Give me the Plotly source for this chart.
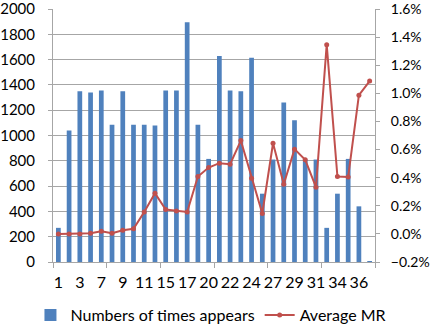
import plotly.graph_objects as go

categories = ["1", "2", "3", "5", "7", "8", "9", "10", "11", "13",
              "15", "16", "17", "19", "20", "21", "22", "23", "24", "26",
              "27", "28", "29", "30", "31", "33", "34", "35", "36", "37"]
times_appears = [270, 1040, 1350, 1340, 1355, 1085, 1350, 1085, 1085, 1080,
                 1355, 1355, 1895, 1085, 815, 1628, 1355, 1350, 1615, 540,
                 810, 1260, 1120, 810, 810, 270, 540, 815, 440, 5]
average_mr = [0.00000, 0.00000, 0.00000, 0.00005, 0.00019, 0.00005, 0.00026, 0.00036, 0.00156, 0.00289,
              0.00173, 0.00163, 0.00156, 0.00408, 0.00472, 0.00503, 0.00496, 0.00664, 0.00396, 0.00145,
              0.00645, 0.00353, 0.00603, 0.00527, 0.00332, 0.01346, 0.00408, 0.00405, 0.00987, 0.01087]
left_ticks = [0, 200, 400, 600, 800, 1000, 1200, 1400, 1600, 1800, 2000]
right_ticks = [-0.002, 0.0, 0.002, 0.004, 0.006, 0.008, 0.010, 0.012, 0.014, 0.016]

idx = list(range(len(categories)))
label_idx = idx[::2]
label_text = categories[::2]

FONT = "Lato"
BLUE = "#4F81BD"
RED = "#C0504D"
GRID = "#A6A6A6"

fig = go.Figure()
fig.add_trace(go.Bar(
    x=idx, y=times_appears, name="Numbers of times appears",
    marker=dict(color=BLUE, line=dict(width=0)),
))
fig.add_trace(go.Scatter(
    x=idx, y=average_mr, name="Average MR", yaxis="y2",
    mode="lines+markers",
    line=dict(color=RED, width=2),
    marker=dict(color=RED, size=5),
))

fig.update_layout(
    width=431, height=327,
    margin=dict(l=53, r=56, t=9, b=65, autoexpand=False),
    paper_bgcolor="white", plot_bgcolor="white",
    font=dict(family=FONT, size=16, color="#000000"),
    bargap=0.56,
    showlegend=True,
    legend=dict(orientation="h", x=-0.07, xanchor="left", y=-0.21, yanchor="middle",
                font=dict(family=FONT, size=16, color="#000000"),
                itemwidth=30, tracegroupgap=0),
    xaxis=dict(
        automargin=False,
        range=[-0.5, len(categories) - 0.5],
        tickmode="array", tickvals=label_idx, ticktext=label_text,
        ticks="", showgrid=False, zeroline=False,
        showline=True, linecolor=GRID, linewidth=1,
        ticklabelstandoff=6, ticklabeloverflow="allow",
        minor=dict(tickmode="linear", tick0=-0.5, dtick=5, ticks="outside",
                   ticklen=5, tickcolor=GRID, showgrid=False),
    ),
    yaxis=dict(
        automargin=False,
        range=[0, 2000], tickmode="array", tickvals=left_ticks,
        showgrid=True, gridcolor=GRID, gridwidth=1,
        zeroline=False, showline=True, linecolor=GRID,
        ticks="outside", ticklen=4, tickcolor=GRID,
        ticklabelstandoff=10, ticklabeloverflow="allow",
        tickfont=dict(family=FONT, size=15, color="#000000"),
    ),
    yaxis2=dict(
        automargin=False,
        overlaying="y", side="right",
        range=[-0.002, 0.016], tickmode="array", tickvals=right_ticks,
        tickformat=".1%", showgrid=False, zeroline=False,
        showline=True, linecolor=GRID,
        ticks="outside", ticklen=4, tickcolor=GRID,
        ticklabelstandoff=8, ticklabeloverflow="allow",
        tickfont=dict(family=FONT, size=14, color="#000000"),
    ),
)

fig.write_html(
    "out.html",
    config={"displayModeBar": False},
    post_script="document.body.style.margin='0';document.body.style.overflow='hidden';",
)
